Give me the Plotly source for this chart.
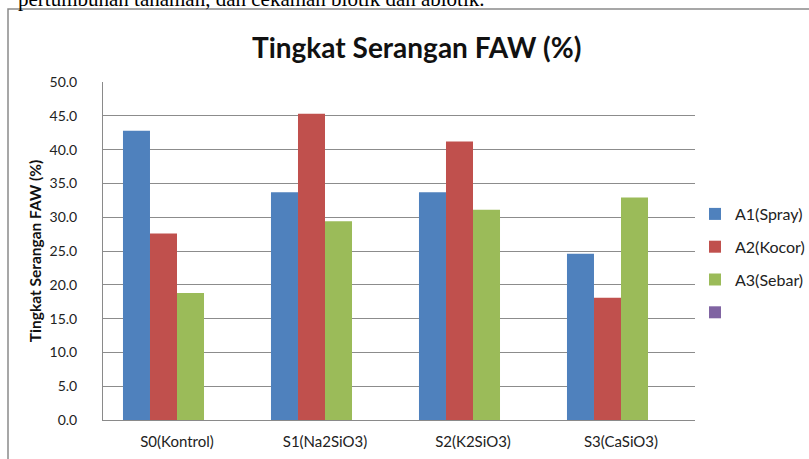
import plotly.graph_objects as go

categories = ["S0(Kontrol)", "S1(Na2SiO3)", "S2(K2SiO3)", "S3(CaSiO3)"]
a1_spray = [42.8, 33.7, 33.7, 24.6]
a2_kocor = [27.6, 45.3, 41.2, 18.1]
a3_sebar = [18.8, 29.4, 31.1, 32.9]
empty_series = [None, None, None, None]
series_names = ["A1(Spray)", "A2(Kocor)", "A3(Sebar)", " "]
colors = ["#4F81BD", "#C0504D", "#9BBB59", "#8064A2"]

W, H = 809, 459
L, R, T, B = 103, 114, 82, 39
pw, ph = W - L - R, H - T - B

def px_x(p):
    return (p - L) / pw

def px_y(p):
    return (H - B - p) / ph

font_main = "Lato, sans-serif"

fig = go.Figure()
for i, (name, vals) in enumerate(zip(series_names, [a1_spray, a2_kocor, a3_sebar, empty_series])):
    fig.add_trace(go.Bar(
        x=categories, y=vals, name=name,
        marker=dict(color=colors[i], line=dict(width=0)),
        legendgroup=f"g{i}", offsetgroup=f"o{i}",
    ))

fig.update_layout(
    width=W, height=H,
    margin=dict(l=L, r=R, t=T, b=B, autoexpand=False),
    paper_bgcolor="white", plot_bgcolor="white",
    barmode="group", bargap=0.27, bargroupgap=0,
    showlegend=True,
    legend=dict(
        x=px_x(695), y=px_y(197), xanchor="left", yanchor="top",
        font=dict(family=font_main, size=16, color="#222"),
        tracegroupgap=9, traceorder="grouped",
        itemwidth=30, bgcolor="rgba(0,0,0,0)",
    ),
    font=dict(family=font_main, color="#222"),
    xaxis=dict(
        showgrid=False, showline=True, linecolor="#8a8a8a", linewidth=1,
        ticks="", tickfont=dict(size=15, family=font_main, color="#222"),
        ticklabelstandoff=8,
    ),
    yaxis=dict(
        range=[0, 50], dtick=5, tickformat=".1f",
        showgrid=True, gridcolor="#8c8c8c", gridwidth=1,
        showline=True, linecolor="#8a8a8a", linewidth=1,
        zeroline=False, ticks="",
        tickfont=dict(size=14, family=font_main, color="#222"),
        ticklabelstandoff=22,
        title=dict(text="<b>Tingkat Serangan FAW (%)</b>",
                   font=dict(size=15.5, family=font_main, color="#111"),
                   standoff=4),
    ),
)

fig.add_annotation(
    text="<b>Tingkat Serangan FAW (%)</b>",
    xref="paper", yref="paper", x=px_x(416), y=px_y(47),
    xanchor="center", yanchor="middle", showarrow=False,
    font=dict(size=28, family=font_main, color="#111"),
)

fig.add_annotation(
    text="pertumbuhan tanaman, dan cekaman biotik dan abiotik.",
    xref="paper", yref="paper", x=px_x(487), y=px_y(13),
    xanchor="right", yanchor="bottom", showarrow=False,
    font=dict(size=21, family="Liberation Serif, serif", color="#000"),
)

fig.add_shape(
    type="rect", xref="paper", yref="paper",
    x0=px_x(8), x1=px_x(830), y0=px_y(480), y1=px_y(9),
    line=dict(color="#8a8a8a", width=1.5), fillcolor="rgba(0,0,0,0)",
    layer="below",
)

fig.write_html("out.html", config={"displayModeBar": False},
               post_script="document.body.style.margin='0px';")
